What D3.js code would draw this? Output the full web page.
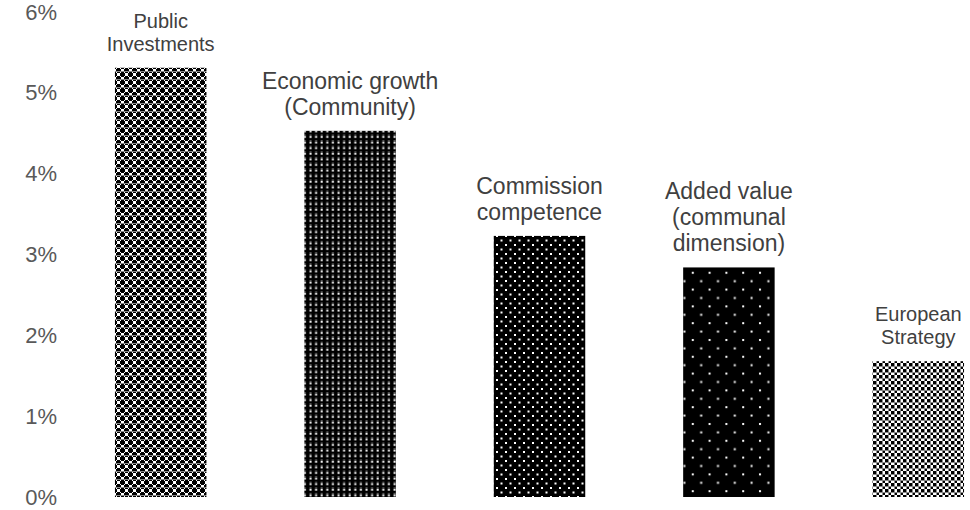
<!DOCTYPE html>
<html>
<head>
<meta charset="utf-8">
<script src="https://cdn.jsdelivr.net/npm/d3@7/dist/d3.min.js"></script>
<style>
  html, body { margin: 0; padding: 0; background: #fff; }
  svg { display: block; font-family: "Liberation Sans", Arial, sans-serif; }
</style>
</head>
<body>
<svg id="chart" width="970" height="510"></svg>
<script>
// Share of mentions per argument (%)
const categories = [
  ["Public", "Investments"],
  ["Economic growth", "(Community)"],
  ["Commission", "competence"],
  ["Added value", "(communal", "dimension)"],
  ["European", "Strategy"]
];
const values = [5.31, 4.53, 3.23, 2.84, 1.68];
const yTicks = [0, 1, 2, 3, 4, 5, 6];
const patternIds = ["pCross", "pGrid", "pDots", "pSparse", "pChecker"];
const labelSizes = [20, 23, 23, 23, 20];

const svg = d3.select("#chart");
const defs = svg.append("defs");

// Fill patterns for the bars
function pattern(id, w, h, draw) {
  const p = defs.append("pattern")
    .attr("id", id).attr("patternUnits", "userSpaceOnUse")
    .attr("width", w).attr("height", h);
  draw(p);
}
function box(p, x0, y0, w, h, c) {
  p.append("rect").attr("x", x0).attr("y", y0).attr("width", w).attr("height", h).attr("fill", c);
}
pattern("pCross", 8, 8, p => {
  box(p, 0, 0, 8, 8, "#fff");
  // two black plus signs per tile
  box(p, 0, 1, 5, 3, "#000"); box(p, 1, 0, 3, 5, "#000");
  box(p, 4, 5, 4, 3, "#000"); box(p, 5, 4, 3, 4, "#000");
  box(p, 0, 5, 1, 3, "#000"); box(p, 5, 0, 3, 1, "#000");
  box(p, 0, 7, 8, 1, "#888");
});
pattern("pGrid", 5.6, 5.6, p => {
  box(p, 0, 0, 5.6, 5.6, "#000");
  box(p, 1.5, 1.5, 2, 2, "#fff");
  box(p, 1.5, 0, 2, 0.8, "#666");
});
pattern("pDots", 9, 9, p => {
  box(p, 0, 0, 9, 9, "#000");
  box(p, 1, 1, 2, 2, "#fff");
  box(p, 5.5, 5.5, 2, 2, "#fff");
});
pattern("pSparse", 16.8, 16.8, p => {
  box(p, 0, 0, 16.8, 16.8, "#000");
  box(p, 3, 3, 2, 2, "#fff");
  box(p, 11.4, 11.4, 2, 2, "#fff");
});
pattern("pChecker", 6, 6, p => {
  box(p, 0, 0, 6, 6, "#fff");
  box(p, 0, 0, 3, 3, "#000");
  box(p, 3, 3, 3, 3, "#000");
  box(p, 0, 0, 6, 1, "#888");
  box(p, 0, 0, 1, 6, "#888");
});

const x = d3.scaleBand()
  .domain(d3.range(categories.length))
  .range([66, 1013])
  .paddingInner(0.517)
  .paddingOuter(0.2585);

const y = d3.scaleLinear().domain([0, 6]).range([497, 12]);

// Y axis: percentage labels only
const yAxis = d3.axisLeft(y)
  .tickValues(yTicks)
  .tickFormat(d => d + "%")
  .tickSize(0)
  .tickPadding(0);
const gy = svg.append("g").attr("transform", "translate(57,0)").call(yAxis);
gy.select(".domain").remove();
gy.selectAll("text")
  .attr("fill", "#595959")
  .style("font-size", "22px")
  .style("font-family", "'Liberation Sans', Arial, sans-serif");

// Bars
svg.append("g").selectAll("rect")
  .data(values)
  .join("rect")
  .attr("x", (d, i) => x(i))
  .attr("y", d => y(d))
  .attr("width", x.bandwidth())
  .attr("height", d => y(0) - y(d))
  .attr("fill", (d, i) => `url(#${patternIds[i]})`);

// Category labels above each bar
const labels = svg.append("g").selectAll("text")
  .data(categories)
  .join("text")
  .attr("text-anchor", "middle")
  .attr("fill", "#404040")
  .style("font-size", (d, i) => labelSizes[i] + "px");
labels.each(function(lines, i) {
  const t = d3.select(this);
  const fs = labelSizes[i];
  const lineH = fs * 1.14;
  const cx = x(i) + x.bandwidth() / 2;
  const lastBase = y(values[i]) - 24 + fs * 0.35;
  lines.forEach((ln, k) => {
    t.append("tspan")
      .attr("x", cx)
      .attr("y", lastBase - (lines.length - 1 - k) * lineH)
      .text(ln);
  });
});
</script>
</body>
</html>
